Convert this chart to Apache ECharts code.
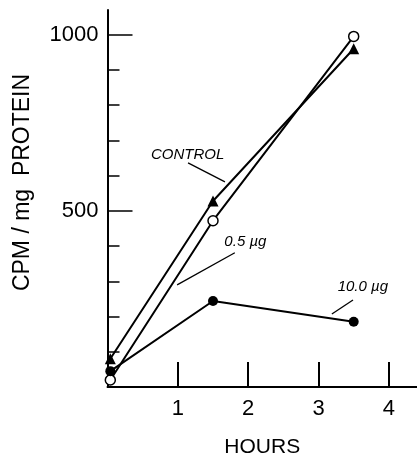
<!DOCTYPE html>
<html>
<head>
<meta charset="utf-8">
<script src="https://cdn.jsdelivr.net/npm/echarts@6/dist/echarts.min.js"></script>
<style>
html,body{margin:0;padding:0;background:#fff;}
#c{width:417px;height:457px;}
</style>
</head>
<body>
<div id="c"></div>
<script>
var hours = [0.04, 1.5, 3.5];
var control = [80, 528, 960];
var ug05 = [20, 472, 995];
var ug10 = [45, 244, 185];
var xTickValues = [1, 2, 3, 4];
var yMajorTicks = [500, 1000];
var yMinorTicks = [100, 200, 300, 400, 600, 700, 800, 900];
var seriesNames = ['CONTROL', '0.5 \u00b5g', '10.0 \u00b5g'];

var font = 'Liberation Sans, Arial, sans-serif';
function pts(ys){ return hours.map(function(h,i){ return [h, ys[i]]; }); }

var chart = echarts.init(document.getElementById('c'));
var leader = {color:'#000', width:1.3, type:'solid'};
function markL(a,b){
  return {silent:true, symbol:['none','none'], label:{show:false}, lineStyle:leader,
          animation:false, data:[[{coord:a},{coord:b}]]};
}
function note(pos, text){
  return {silent:true, animation:false, symbol:'circle', symbolSize:0,
    data:[{coord:pos, value:text}],
    label:{show:true, position:'inside', formatter:text, color:'#000',
      fontStyle:'italic', fontFamily:font, fontSize:15}};
}
chart.setOption({
  animation:false,
  backgroundColor:'#fff',
  grid:{left:107.5, right:0, top:10, bottom:70, containLabel:false, outerBoundsMode:'none'},
  xAxis:{type:'value', min:0, max:4.4,
    axisLine:{show:true, lineStyle:{color:'#000', width:2}},
    axisTick:{show:true, inside:true, length:25, lineStyle:{color:'#000', width:2}, customValues:xTickValues},
    axisLabel:{show:true, customValues:xTickValues, margin:11, color:'#000', fontSize:22, fontFamily:font,
      formatter:function(v){return String(v);}},
    splitLine:{show:false},
    name:'HOURS', nameLocation:'middle', nameGap:50,
    nameTextStyle:{color:'#000', fontSize:21, fontFamily:font}
  },
  yAxis:[
    {type:'value', min:0, max:1070, position:'left',
      axisLine:{show:true, onZero:false, lineStyle:{color:'#000', width:2}},
      axisTick:{show:true, inside:true, length:12, lineStyle:{color:'#000', width:1.5}, customValues:yMinorTicks},
      axisLabel:{show:false}, splitLine:{show:false},
      name:'CPM / mg  PROTEIN', nameLocation:'middle', nameGap:73, nameRotate:90,
      nameTextStyle:{color:'#000', fontSize:23, fontFamily:font, padding:[0,0,0,32]}
    },
    {type:'value', min:0, max:1070, position:'left',
      axisLine:{show:false},
      axisTick:{show:true, inside:true, length:25, lineStyle:{color:'#000', width:1.5}, customValues:yMajorTicks},
      axisLabel:{show:true, customValues:yMajorTicks, margin:9, color:'#000', fontSize:22, fontFamily:font,
        formatter:function(v){return String(v);}},
      splitLine:{show:false}
    }
  ],
  series:[
    {name:seriesNames[0], type:'line', data:pts(control), symbol:'triangle', symbolSize:11,
      lineStyle:{color:'#000', width:2}, itemStyle:{color:'#000'},
      markLine:markL([1.145,636],[1.67,582]), markPoint:note([1.14,660], seriesNames[0])},
    {name:seriesNames[1], type:'line', data:pts(ug05), symbol:'circle', symbolSize:10,
      lineStyle:{color:'#000', width:2}, itemStyle:{color:'#fff', borderColor:'#000', borderWidth:1.5},
      markLine:markL([1.81,381],[0.99,290]), markPoint:note([1.96,411], seriesNames[1])},
    {name:seriesNames[2], type:'line', data:pts(ug10), symbol:'circle', symbolSize:10,
      lineStyle:{color:'#000', width:2}, itemStyle:{color:'#000'},
      markLine:markL([3.49,247],[3.19,207]), markPoint:note([3.63,283], seriesNames[2])}
  ]
});
</script>
</body>
</html>
